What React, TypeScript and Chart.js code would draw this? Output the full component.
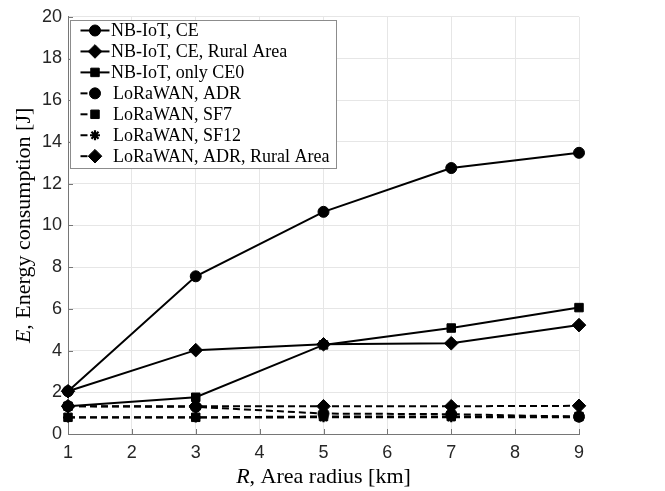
import React, { useEffect, useRef } from "react";
import { Chart, registerables } from "chart.js";
import { drawPoint } from "chart.js/helpers";

Chart.register(...registerables);

// Area radius R [km]
const radiusKm = [1, 3, 5, 7, 9];

// Energy consumption E [J]
const nbIotCe = [2.05, 7.56, 10.65, 12.75, 13.48];
const nbIotCeRural = [2.05, 4.02, 4.3, 4.35, 5.22];
const nbIotOnlyCe0 = [1.33, 1.76, 4.27, 5.08, 6.06];
const loraAdr = [1.33, 1.3, 0.98, 0.95, 0.83];
const loraSf7 = [0.8, 0.8, 0.84, 0.84, 0.84];
const loraSf12 = [0.79, 0.79, 0.8, 0.8, 0.8];
const loraAdrRural = [1.33, 1.33, 1.33, 1.33, 1.35];

const xTickValues = [1, 2, 3, 4, 5, 6, 7, 8, 9];
const yTickValues = [0, 2, 4, 6, 8, 10, 12, 14, 16, 18, 20];

const seriesLabels = [
  "NB-IoT, CE",
  "NB-IoT, CE, Rural Area",
  "NB-IoT, only CE0",
  "LoRaWAN, ADR",
  "LoRaWAN, SF7",
  "LoRaWAN, SF12",
  "LoRaWAN, ADR, Rural Area",
];
const seriesValues = [nbIotCe, nbIotCeRural, nbIotOnlyCe0, loraAdr, loraSf7, loraSf12, loraAdrRural];
const seriesMarkers = ["circle", "rectRot", "rect", "circle", "rect", "star", "rectRot"];
const seriesDashed = [false, false, false, true, true, true, true];

const markerRadius: Record<string, number> = { circle: 5.5, rect: 6, rectRot: 6.8, star: 5 };

const AXIS_COLOR = "#767676";
const GRID_COLOR = "#e6e6e6";
const TICK_FONT = "Liberation Sans";
const SERIF = "'Liberation Serif', serif";

function drawMixed(ctx: CanvasRenderingContext2D, parts: [string, boolean][], cx: number, cy: number, size: number) {
  const fontFor = (it: boolean) => `${it ? "italic " : ""}${size}px ${SERIF}`;
  let total = 0;
  for (const [t, it] of parts) {
    ctx.font = fontFor(it);
    total += ctx.measureText(t).width;
  }
  let x = cx - total / 2;
  ctx.textAlign = "left";
  ctx.textBaseline = "middle";
  for (const [t, it] of parts) {
    ctx.font = fontFor(it);
    ctx.fillText(t, x, cy);
    x += ctx.measureText(t).width;
  }
}

const decorPlugin = {
  id: "decor",
  beforeDatasetsDraw(chart: any) {
    const { ctx, chartArea, scales } = chart;
    ctx.save();
    ctx.strokeStyle = AXIS_COLOR;
    ctx.lineWidth = 1;
    ctx.beginPath();
    for (const v of xTickValues) {
      const px = Math.round(scales.x.getPixelForValue(v)) + 0.5;
      ctx.moveTo(px, chartArea.bottom);
      ctx.lineTo(px, chartArea.bottom - 5);
    }
    for (const v of yTickValues) {
      const py = Math.round(scales.y.getPixelForValue(v)) + 0.5;
      ctx.moveTo(chartArea.left, py);
      ctx.lineTo(chartArea.left + 5, py);
    }
    ctx.stroke();
    ctx.restore();
  },
  afterDraw(chart: any) {
    const { ctx, chartArea } = chart;
    ctx.save();
    ctx.fillStyle = "#000";

    // axis titles
    drawMixed(ctx, [["R", true], [", Area radius [km]", false]], (chartArea.left + chartArea.right) / 2, 477, 22);
    ctx.save();
    ctx.translate(24, (chartArea.top + chartArea.bottom) / 2);
    ctx.rotate(-Math.PI / 2);
    drawMixed(ctx, [["E", true], [", Energy consumption [J]", false]], 0, 0, 22);
    ctx.restore();

    // legend box
    const bx = 70.5, by = 20.5, bw = 266, bh = 148;
    ctx.fillStyle = "#fff";
    ctx.fillRect(bx, by, bw, bh);
    ctx.strokeStyle = "#8c8c8c";
    ctx.lineWidth = 1;
    ctx.strokeRect(bx, by, bw, bh);

    chart.data.datasets.forEach((ds: any, i: number) => {
      const cy = 30.5 + i * 20.95;
      const dashed = ds.borderDash && ds.borderDash.length;
      ctx.strokeStyle = "#000";
      ctx.fillStyle = "#000";
      ctx.lineWidth = 2;
      ctx.setLineDash([]);
      ctx.beginPath();
      ctx.moveTo(80.5, cy);
      ctx.lineTo(dashed ? 87.5 : 109.5, cy);
      ctx.stroke();
      ctx.lineWidth = ds.pointBorderWidth;
      drawPoint(ctx, { pointStyle: ds.pointStyle, radius: ds.pointRadius, rotation: 0, borderWidth: ds.pointBorderWidth }, 95, cy);
      ctx.fillStyle = "#000";
      ctx.font = `18px ${SERIF}`;
      ctx.textAlign = "left";
      ctx.textBaseline = "middle";
      ctx.fillText(ds.label, dashed ? 113 : 111, cy + 1);
    });
    ctx.restore();
  },
};

export default function App() {
  const canvasRef = useRef<HTMLCanvasElement | null>(null);

  useEffect(() => {
    const canvas = canvasRef.current;
    if (!canvas) return;

    const datasets = seriesLabels.map((label, i) => ({
      label,
      data: radiusKm.map((r, j) => ({ x: r, y: seriesValues[i][j] })),
      borderColor: "#000",
      backgroundColor: "#000",
      borderWidth: 2,
      borderDash: seriesDashed[i] ? [7, 4] : [],
      pointStyle: seriesMarkers[i],
      pointRadius: markerRadius[seriesMarkers[i]],
      pointBorderWidth: seriesMarkers[i] === "star" ? 2.2 : 1,
      pointBackgroundColor: "#000",
      pointBorderColor: "#000",
      tension: 0,
      fill: false,
      clip: false as any,
    }));

    const chart = new Chart(canvas, {
      type: "line",
      data: { datasets },
      options: {
        responsive: false,
        maintainAspectRatio: false,
        devicePixelRatio: 1,
        animation: false,
        layout: { padding: { left: 0, top: 13, right: 86, bottom: 0 } },
        plugins: { legend: { display: false }, tooltip: { enabled: false } },
        scales: {
          x: {
            type: "linear",
            min: 1,
            max: 9,
            afterFit: (s: any) => { s.height = 57; },
            afterBuildTicks: (s: any) => { s.ticks = xTickValues.map((v) => ({ value: v })); },
            ticks: { color: "#262626", font: { family: TICK_FONT, size: 18 }, padding: 8 },
            grid: { color: GRID_COLOR, drawTicks: false },
            border: { display: true, color: AXIS_COLOR, width: 1 },
          },
          y: {
            type: "linear",
            min: 0,
            max: 20,
            afterFit: (s: any) => { s.width = 68; },
            afterBuildTicks: (s: any) => { s.ticks = yTickValues.map((v) => ({ value: v })); },
            ticks: { color: "#262626", font: { family: TICK_FONT, size: 18 }, padding: 6 },
            grid: { color: GRID_COLOR, drawTicks: false },
            border: { display: true, color: AXIS_COLOR, width: 1 },
          },
        },
      },
      plugins: [decorPlugin],
    });

    return () => chart.destroy();
  }, []);

  return (
    <div style={{ position: "absolute", left: 0, top: 0, width: 665, height: 491, background: "#fff" }}>
      <canvas ref={canvasRef} width={665} height={491} style={{ display: "block" }} />
    </div>
  );
}
